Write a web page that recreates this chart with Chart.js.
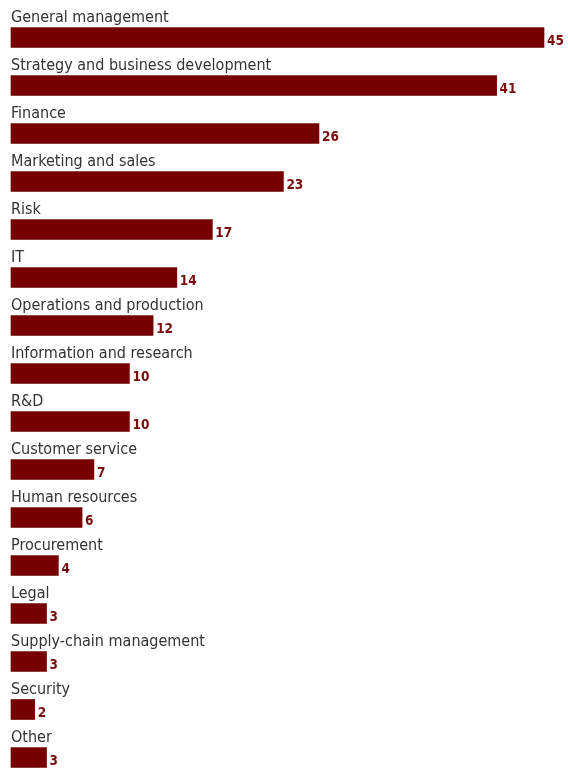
<!DOCTYPE html>
<html>
<head>
<meta charset="utf-8">
<script src="https://cdn.jsdelivr.net/npm/chart.js@4"></script>
<style>
  html, body { margin: 0; padding: 0; background: #fff; }
  #wrap { width: 568px; height: 770px; position: relative; }
</style>
</head>
<body>
<div id="wrap"><canvas id="bars"></canvas></div>
<script>
var categories = ['General management', 'Strategy and business development', 'Finance', 'Marketing and sales',
  'Risk', 'IT', 'Operations and production', 'Information and research', 'R&D', 'Customer service',
  'Human resources', 'Procurement', 'Legal', 'Supply-chain management', 'Security', 'Other'];
var values = [45, 41, 26, 23, 17, 14, 12, 10, 10, 7, 6, 4, 3, 3, 2, 3];

var FONT = '"DejaVu Sans Condensed", "DejaVu Sans", sans-serif';

// category name above each bar, value to the right
var barText = {
  id: 'barText',
  afterDatasetsDraw: function(chart) {
    var ctx = chart.ctx;
    var meta = chart.getDatasetMeta(0);
    ctx.save();
    meta.data.forEach(function(bar, i) {
      var top = bar.y - bar.height / 2;
      ctx.fillStyle = '#333333';
      ctx.font = '16px ' + FONT;
      ctx.textAlign = 'left';
      ctx.textBaseline = 'alphabetic';
      ctx.fillText(categories[i], bar.base, top - 6);
      ctx.fillStyle = '#7a0d0d';
      ctx.font = 'bold 13.5px ' + FONT;
      ctx.fillText(values[i], bar.x + 3, bar.y + 7);
    });
    ctx.restore();
  }
};

new Chart(document.getElementById('bars'), {
  type: 'bar',
  data: {
    labels: categories,
    datasets: [{
      data: values,
      backgroundColor: '#760000',
      barThickness: 20,
      clip: false
    }]
  },
  options: {
    indexAxis: 'y',
    responsive: true,
    maintainAspectRatio: false,
    animation: false,
    layout: { padding: { left: 11, right: 24, top: 37.5, bottom: 12.5 } },
    plugins: { legend: { display: false }, tooltip: { enabled: false } },
    scales: {
      x: { display: false, min: 0, max: 45 },
      y: { display: false, offset: false }
    }
  },
  plugins: [barText]
});
</script>
</body>
</html>
